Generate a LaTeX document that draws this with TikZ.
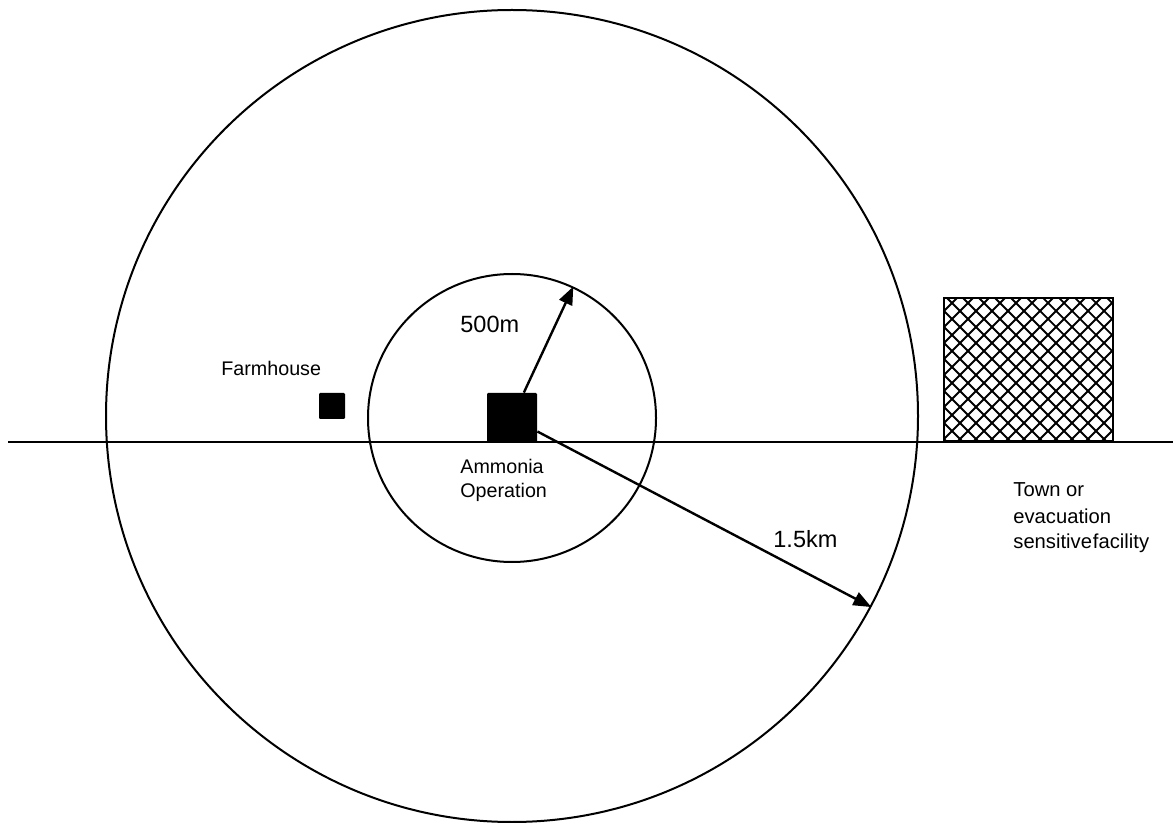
\documentclass[tikz,border=0pt]{standalone}
\usepackage{fontspec}
\setmainfont{Liberation Sans}
\usetikzlibrary{arrows.meta,patterns}
\pgfdeclarepatternformonly{diamondhatch}{\pgfpoint{-1pt}{-1pt}}{\pgfpoint{9pt}{9pt}}{\pgfpoint{8pt}{8pt}}{%
  \pgfsetlinewidth{0.9pt}%
  \pgfpathmoveto{\pgfpoint{0pt}{0pt}}\pgfpathlineto{\pgfpoint{8pt}{8pt}}%
  \pgfpathmoveto{\pgfpoint{0pt}{8pt}}\pgfpathlineto{\pgfpoint{8pt}{0pt}}%
  \pgfusepath{stroke}}
\begin{document}
\begin{tikzpicture}[x=0.5pt, y=-0.5pt,
    zone/.style={circle, draw, line width=1pt, inner sep=0pt},
    site/.style={rectangle, fill=black, inner sep=0pt, rounded corners=0.6pt},
    lbl/.style={inner sep=0pt, anchor=base west, align=left,
      font=\fontsize{9.85pt}{12.5pt}\selectfont},
    dist/.style={inner sep=0pt, anchor=base west,
      font=\fontsize{11.75pt}{14pt}\selectfont},
    radius arrow/.style={line width=1.2pt, -{Triangle[length=9pt,width=7pt]}}]
  \useasboundingbox (0,0) rectangle (1173,823);
  \node[zone, minimum size=812pt*0.5] (outer) at (512,416) {};
  \node[zone, minimum size=288pt*0.5] (inner) at (512,418) {};
  \coordinate (roadW) at (8,442);
  \coordinate (roadE) at (1173,442);
  \draw[line width=1pt] (roadW) -- (roadE);
  \node[site, minimum size=25pt] (op) at (512,418) {};
  \node[site, minimum size=13pt] (farm) at (332,406) {};
  \node[draw, line width=1pt, pattern=diamondhatch, minimum width=84.5pt,
    minimum height=71.5pt, inner sep=0pt] (town) at (1028.5,369.5) {};
  \node[lbl] (farmlbl) at (221,376) {Farmhouse};
  % multi-line labels sit on their last baseline
  \node[lbl] (oplbl) at (460,498) {Ammonia\\Operation};
  \node[lbl, font=\fontsize{10.1pt}{13pt}\selectfont] (townlbl) at (1013,549)
    {Town or\\evacuation\\sensitive\hspace{0.05em}facility};
  \node[dist] (near) at (460,333) {500m};
  \node[dist] (far) at (773,547) {1.5km};
  \draw[radius arrow] (op.65.4) -- (inner.65.4);
  \draw[radius arrow] (op.-28) -- (outer.-28);
\end{tikzpicture}
\end{document}
